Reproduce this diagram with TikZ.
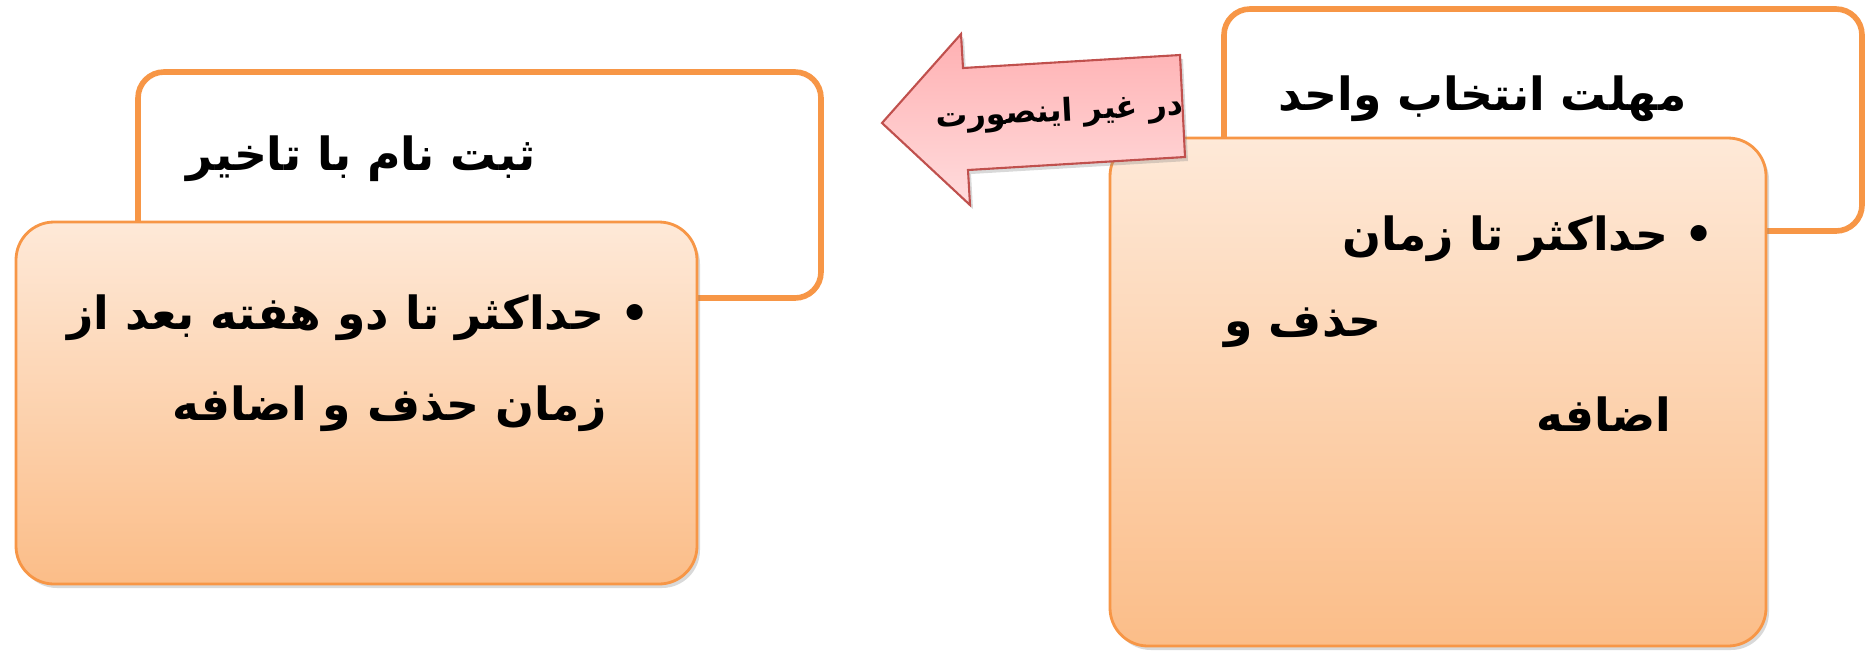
\documentclass[tikz,border=0pt]{standalone}
\usepackage{fontspec}
\newfontfamily\arabicfont[Script=Arabic]{DejaVu Sans}
\TeXXeTstate=1
\usetikzlibrary{shadows}
\definecolor{boxorange}{HTML}{F79646}
\definecolor{peachtop}{HTML}{FEE9D8}
\definecolor{peachbot}{HTML}{FBBD88}
\definecolor{arrowred}{HTML}{C0504D}
\definecolor{pinktop}{HTML}{FFB0B2}
\definecolor{pinkbot}{HTML}{FFDCDD}

\begin{document}
\begin{tikzpicture}[
    whitebox/.style={draw=boxorange,line width=1.6pt,fill=white,rounded corners=0.26cm},
    peachbox/.style={draw=boxorange,line width=0.8pt,top color=peachtop,bottom color=peachbot,rounded corners=0.38cm,
        drop shadow={shadow xshift=0.03cm,shadow yshift=-0.04cm,opacity=0.3}},
    pinkarrow/.style={draw=arrowred,line width=0.6pt,top color=pinktop,bottom color=pinkbot,
        drop shadow={shadow xshift=0.03cm,shadow yshift=-0.04cm,opacity=0.3}},
    fatext/.style={font=\arabicfont\bfseries\fontsize{13}{16}\selectfont,anchor=east,inner sep=0pt},
    smalltext/.style={font=\arabicfont\bfseries\fontsize{9}{11}\selectfont,inner sep=0pt}
    ]
\useasboundingbox (0,0) rectangle (18.65,6.51);
% left group
\draw[whitebox] (1.38,3.53) rectangle (8.21,5.79);
\draw[peachbox] (0.16,0.67) rectangle (6.97,4.29);
\node[fatext] (latetitle) at (5.36,4.92) {\beginR ثبت نام با تاخیر\endR};
\node[fatext] (lateline1) at (6.50,3.33) {\beginR • حداکثر تا دو هفته بعد از\endR};
\node[fatext] (lateline2) at (6.07,2.42) {\beginR زمان حذف و اضافه\endR};
% right group
\draw[whitebox] (12.24,4.20) rectangle (18.62,6.42);
\draw[peachbox] (11.10,0.05) rectangle (17.66,5.13);
\node[fatext] (deadtitle) at (16.87,5.52) {\beginR مهلت انتخاب واحد\endR};
\node[fatext] (deadline1) at (17.14,4.12) {\beginR • حداکثر تا زمان\endR};
\node[fatext] (deadline2) at (13.82,3.23) {\beginR حذف و\endR};
\node[fatext] (deadline3) at (16.72,2.37) {\beginR اضافه\endR};
% arrow
\draw[pinkarrow] (8.82,5.28) -- (9.61,6.17) -- (9.63,5.83) -- (11.80,5.96) -- (11.85,4.94) -- (9.68,4.81) -- (9.70,4.46) -- cycle;
\node[smalltext,rotate=3] (otherwise) at (10.60,5.38) {\beginR در غیر اینصورت\endR};
\end{tikzpicture}
\end{document}
